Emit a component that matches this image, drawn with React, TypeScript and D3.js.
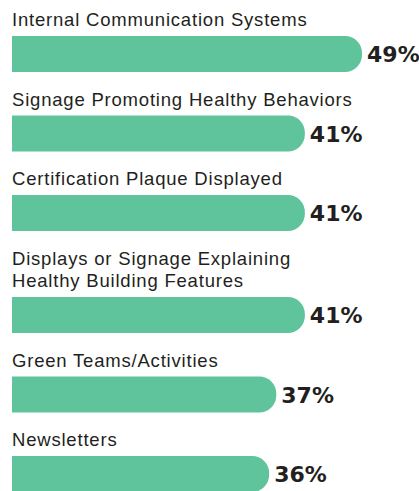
import * as d3 from "d3";

const categories = [
  ["Internal Communication Systems"],
  ["Signage Promoting Healthy Behaviors"],
  ["Certification Plaque Displayed"],
  ["Displays or Signage Explaining", "Healthy Building Features"],
  ["Green Teams/Activities"],
  ["Newsletters"],
];
const values = [49, 41, 41, 41, 37, 36];

const W = 419;
const H = 491;
const LEFT = 12;
const BAR_H = 36;
const FIRST_BASE = 26;
const LINE_H = 22.5;
const LABEL_GAP = 10;
const ROW_GAP = 33.5;
const RADIUS = 17;

const GREEN = "#5fc39b";
const INK = "#231f20";

// rounded on the right end only
function barPath(x0: number, x1: number, y: number, h: number, r: number) {
  const p = d3.path();
  p.moveTo(x0, y);
  p.lineTo(x1 - r, y);
  p.arcTo(x1, y, x1, y + r, r);
  p.lineTo(x1, y + h - r);
  p.arcTo(x1, y + h, x1 - r, y + h, r);
  p.lineTo(x0, y + h);
  p.closePath();
  return p.toString();
}

export default function App() {
  const x = d3.scaleLinear().domain([0, 49]).range([LEFT, 362]);

  // stack the rows: label lines then bar
  let base = FIRST_BASE;
  const rows = categories.map((lines, i) => {
    const labelY = base;
    const barTop = base + (lines.length - 1) * LINE_H + LABEL_GAP;
    base = barTop + BAR_H + ROW_GAP;
    return { lines, value: values[i], labelY, barTop };
  });

  return (
    <svg
      width={W}
      height={H}
      style={{ position: "absolute", left: 0, top: 0, background: "#fff" }}
    >
      {rows.map((r, i) => (
        <g key={i}>
          <text
            x={LEFT}
            y={r.labelY}
            fill={INK}
            fontFamily="'Liberation Sans', Arial, sans-serif"
            fontSize={18.5}
            letterSpacing={0.8}
          >
            {r.lines.map((l, j) => (
              <tspan key={j} x={LEFT} y={r.labelY + j * LINE_H}>
                {l}
              </tspan>
            ))}
          </text>
          <path
            d={barPath(x(0), x(r.value), r.barTop, BAR_H, RADIUS)}
            fill={GREEN}
          />
          <text
            x={x(r.value) + 5}
            y={r.barTop + BAR_H / 2 + 8}
            fill={INK}
            fontFamily="'DejaVu Sans', sans-serif"
            fontWeight="bold"
            fontSize={22}
          >
            {r.value}%
          </text>
        </g>
      ))}
    </svg>
  );
}
